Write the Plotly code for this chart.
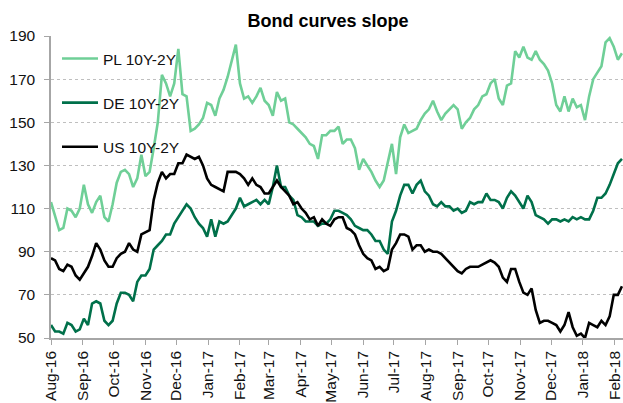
import pandas as pd
import plotly.graph_objects as go

# Sample dates (every 4 days) from Aug 2016 to Feb 2018
dates = pd.date_range("2016-08-01", periods=140, freq="4D")

pl_10y2y = [113,107,100,101,110,109,106,110,121,112,
            108,113,116,106,104,112,122,127,128,126,
            120,124,135,125,127,138,150,172,168,162,
            168,184,163,162,146,147,149,152,159,158,
            153,161,165,171,178,186,168,161,162,159,
            162,166,160,158,153,164,160,161,150,149,
            147,145,143,140,139,133,144,144,146,146,
            148,140,142,142,138,128,133,130,127,123,
            120,123,132,140,126,143,149,145,146,147,
            151,154,156,160,155,151,154,156,158,156,
            147,150,152,156,158,162,163,168,170,161,
            158,167,168,183,180,185,180,179,183,179,
            177,174,168,158,155,162,155,161,157,158,
            151,162,170,173,176,187,189,185,179,182]

de_10y2y = [56,53,53,52,57,56,53,54,59,56,
            66,67,66,58,56,58,66,71,71,70,
            67,76,79,79,82,91,93,95,98,98,
            103,106,109,112,110,106,103,101,97,105,
            97,104,103,104,107,110,115,111,112,113,
            114,112,114,112,120,130,120,120,116,114,
            107,106,104,104,104,102,103,103,105,109,
            109,108,107,105,102,101,100,100,98,95,
            95,91,89,104,109,116,121,121,117,121,
            123,118,116,112,111,113,111,111,109,110,
            108,109,113,112,113,113,117,114,114,113,
            110,115,118,116,113,110,116,113,107,106,
            105,103,105,105,104,105,104,106,105,106,
            105,105,109,115,115,117,121,126,131,133]

us_10y2y = [87,86,82,81,84,83,79,77,80,83,
            88,94,91,86,83,83,87,89,90,94,
            91,90,98,99,100,114,122,127,124,126,
            126,131,131,135,134,133,134,130,124,121,
            120,119,118,127,127,127,126,124,121,124,
            121,120,117,117,120,123,120,118,116,112,
            113,110,108,105,106,102,105,103,102,105,
            106,106,101,100,98,93,89,87,86,82,
            83,81,82,91,94,98,98,97,91,93,
            93,90,91,90,90,89,87,85,83,81,
            80,82,83,83,83,84,85,86,85,83,
            78,76,82,82,76,71,70,73,63,57,
            58,58,57,56,53,56,62,55,51,52,
            50,57,56,55,58,56,60,70,70,74]

series_names = ["PL 10Y-2Y", "DE 10Y-2Y", "US 10Y-2Y"]
series_values = [pl_10y2y, de_10y2y, us_10y2y]
series_colors = ["#6FCF97", "#00704A", "#000000"]

FONT = "Liberation Sans, Arial, sans-serif"

fig = go.Figure()
for i, (name, vals, col) in enumerate(zip(series_names, series_values, series_colors)):
    fig.add_trace(go.Scatter(
        x=dates, y=vals, name=name, mode="lines",
        line=dict(color=col, width=2.6),
        legendgroup=f"g{i}",
    ))

fig.update_layout(
    width=623, height=403, autosize=False,
    margin=dict(l=51, r=0, t=36, b=61, pad=0),
    paper_bgcolor="white", plot_bgcolor="white",
    font=dict(family=FONT, size=15, color="#111111"),
    title=dict(text="<b>Bond curves slope</b>", x=328/623, xanchor="center",
               y=1 - 21/403, yanchor="middle", font=dict(size=18, color="#000")),
    showlegend=True,
    legend=dict(x=(57-51)/572, xanchor="left", y=1 - (42-36)/306, yanchor="top",
                bgcolor="rgba(0,0,0,0)", font=dict(size=15.5, color="#111111"),
                tracegroupgap=21, itemwidth=36, itemclick=False),
)

fig.update_xaxes(
    type="date", range=["2016-08-01", "2018-02-09"],
    tick0="2016-08-01", dtick="M1", tickformat="%b-%y", tickangle=-90,
    ticks="outside", ticklen=5, tickcolor="#A6A6A6", tickwidth=1,
    showline=True, linecolor="#A6A6A6", linewidth=1.5,
    showgrid=False, zeroline=False,
    tickfont=dict(size=15.5),
)
fig.update_yaxes(
    range=[50, 190], tick0=50, dtick=20,
    ticks="outside", ticklen=5, tickcolor="#A6A6A6", tickwidth=1,
    showline=True, linecolor="#A6A6A6", linewidth=1.5,
    showgrid=True, gridcolor="#BFBFBF", griddash="dot", gridwidth=1,
    zeroline=False, ticklabelstandoff=6,
    tickfont=dict(size=15.5),
)

fig.write_html("out.html", config={"displayModeBar": False},
               post_script="document.body.style.margin='0';")
